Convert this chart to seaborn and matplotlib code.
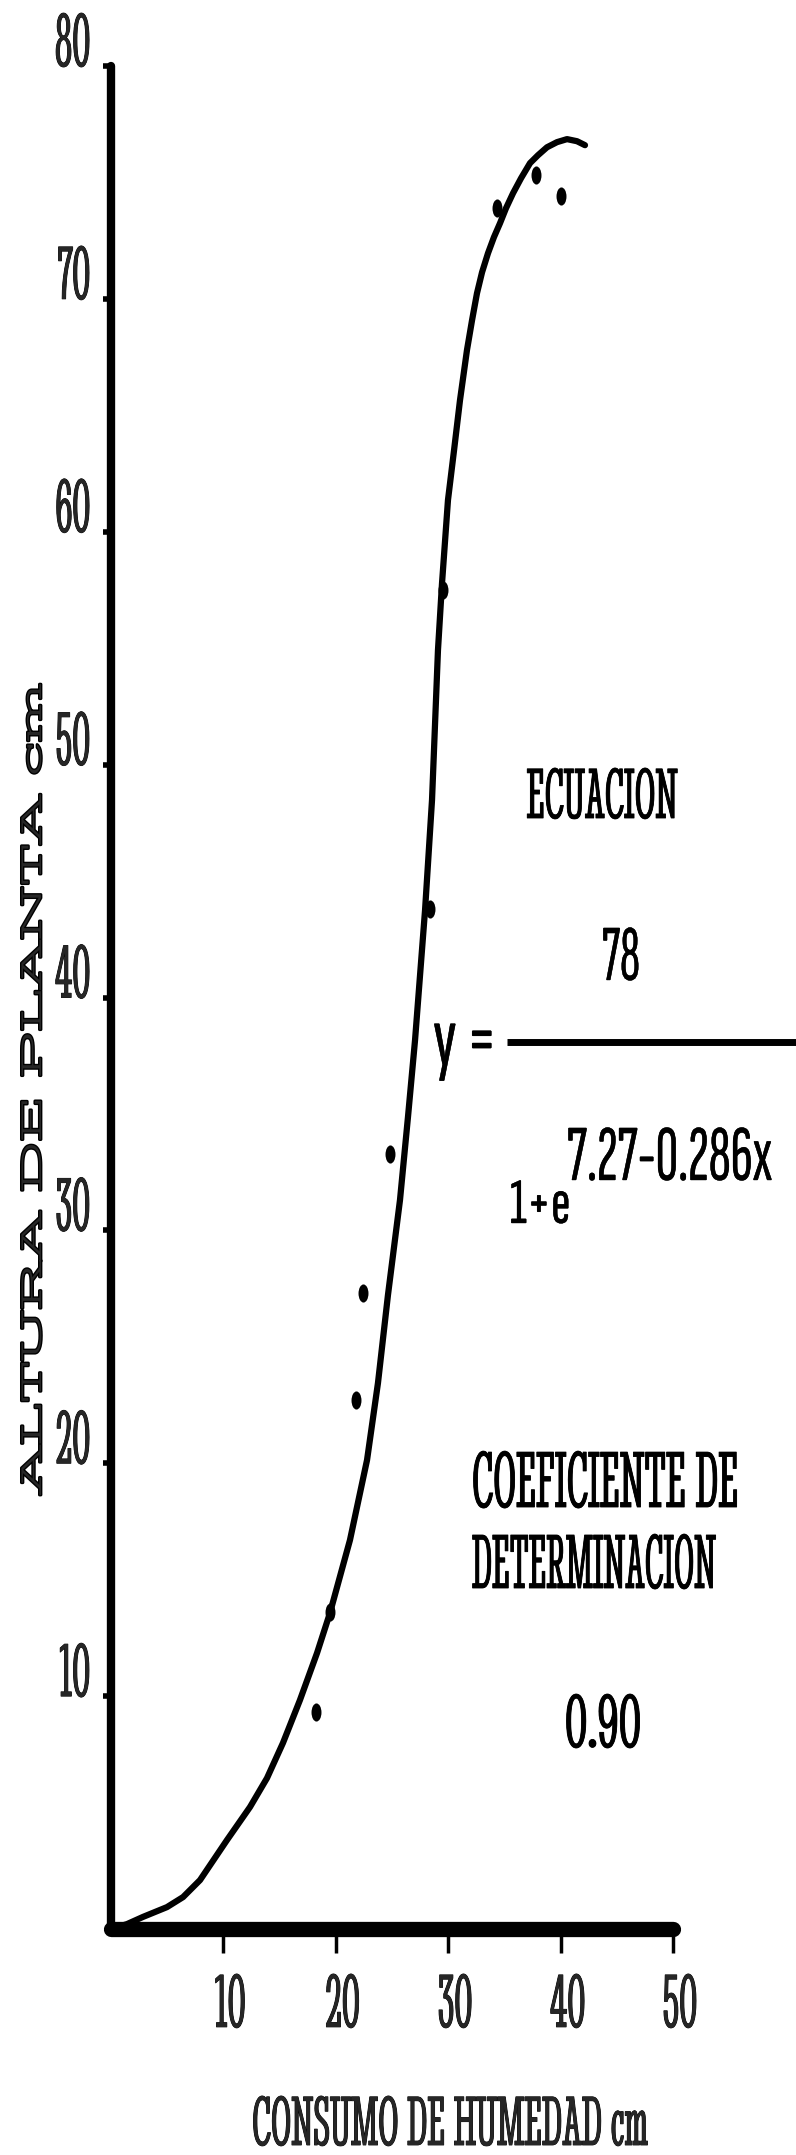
import matplotlib
matplotlib.use("Agg")
import matplotlib.pyplot as plt
import numpy as np
import pandas as pd
import seaborn as sns
from fontTools.ttLib import TTFont
from matplotlib import font_manager as fm
from matplotlib import patheffects
from matplotlib.font_manager import FontProperties
from matplotlib.lines import Line2D
from matplotlib.path import Path
from matplotlib.textpath import TextPath
from matplotlib.transforms import ScaledTranslation

# Observed plant height (cm) against moisture use (cm)
consumo = [18.2, 19.5, 21.8, 22.4, 24.8, 28.4, 29.5, 34.3, 37.8, 40.0]
altura = [9.3, 13.6, 22.7, 27.3, 33.3, 43.8, 57.5, 73.9, 75.3, 74.4]

# Hand-drawn logistic response curve through the observations
curva_x = [0.0, 1.42, 2.85, 4.98, 6.41, 7.92, 10.32, 12.37, 13.88, 15.30,
           16.81, 18.33, 19.48, 21.26, 22.78, 23.75, 24.64, 25.71, 26.42,
           27.05, 27.94, 28.56, 29.09, 29.45, 29.98, 30.52, 31.05, 31.67,
           32.12, 32.56, 33.01, 33.54, 34.07, 34.61, 35.14, 35.77, 36.48,
           37.28, 37.99, 38.79, 39.68, 40.57, 41.46, 42.17]
curva_y = [0.0, 0.21, 0.52, 0.94, 1.37, 2.10, 3.82, 5.24, 6.48, 7.99,
           9.83, 11.85, 13.57, 16.70, 20.14, 23.44, 27.22, 31.30, 34.86,
           38.17, 43.75, 48.48, 54.92, 57.79, 61.36, 63.50, 65.65, 67.80,
           69.08, 70.24, 71.14, 71.96, 72.65, 73.25, 73.89, 74.54, 75.18,
           75.83, 76.17, 76.51, 76.73, 76.86, 76.77, 76.60]

x_ticks = [10, 20, 30, 40, 50]
y_ticks = [10, 20, 30, 40, 50, 60, 70, 80]

x_label = "CONSUMO DE HUMEDAD cm"
y_label = "ALTURA DE PLANTA cm"
titulo_ecuacion = "ECUACION"
numerador = "78"
lado_izquierdo = "y ="
base_denominador = "1+e"
exponente = "7.27-0.286x"
titulo_r2 = ["COEFICIENTE DE", "DETERMINACION"]
valor_r2 = "0.90"

sns.set_theme(style="white")

available = {f.name for f in fm.fontManager.ttflist}


def pick(*names):
    for n in names:
        if n in available:
            return n
    return "DejaVu Sans"


SERIF_COND = pick("Stint Ultra Condensed", "Liberation Sans Narrow", "DejaVu Serif")
SERIF_WIDE = pick("Stint Ultra Expanded", "Liberation Serif", "DejaVu Serif")
SANS_COND = pick("Sofia Sans Extra Condensed", "Sofia Sans Condensed",
                 "Liberation Sans Narrow", "DejaVu Sans")
plt.rcParams["font.family"] = [SERIF_COND, "DejaVu Sans"]

# --- typewriter-style lettering: derive horizontally scaled font variants ---
_variants = {}


def scaled_family(family, sx):
    """Register a copy of `family` whose glyphs are scaled by sx horizontally."""
    key = (family, round(sx, 3))
    if key in _variants:
        return _variants[key]
    try:
        src = fm.findfont(FontProperties(family=family), fallback_to_default=False)
        f = TTFont(src)
        if "glyf" not in f:
            raise ValueError("no glyf table")
        glyf, hmtx = f["glyf"], f["hmtx"]
        for name in f.getGlyphOrder():
            g = glyf[name]
            if g.isComposite():
                for c in g.components:
                    if hasattr(c, "x"):
                        c.x = int(round(c.x * sx))
            elif g.numberOfContours > 0:
                g.coordinates.scale((sx, 1.0))
                g.coordinates.toInt()
            adv, lsb = hmtx[name]
            hmtx[name] = (int(round(adv * sx)), int(round(lsb * sx)))
        for tag in ("hdmx", "LTSH", "VDMX", "fvar", "gvar", "HVAR", "MVAR",
                    "avar", "cvar", "STAT", "GPOS", "DSIG"):
            if tag in f:
                del f[tag]
        if "kern" in f:
            for st in f["kern"].kernTables:
                kt = getattr(st, "kernTable", None)
                if kt:
                    for k in list(kt):
                        kt[k] = int(round(kt[k] * sx))
        new_name = f"{family} W{int(round(sx * 1000))}"
        for rec in f["name"].names:
            if rec.nameID in (1, 3, 4, 16):
                rec.string = new_name
            elif rec.nameID == 6:
                rec.string = new_name.replace(" ", "")
        out = new_name.replace(" ", "_") + ".ttf"
        f.save(out)
        fm.fontManager.addfont(out)
        _variants[key] = new_name
    except Exception:
        _variants[key] = family
    return _variants[key]


def fit(text, family, h_px, w_px):
    """Font size (pt) for glyph height h_px, in a variant scaled to width w_px."""
    tp = TextPath((0, 0), text, size=1, prop=FontProperties(family=family))
    e = tp.get_extents()
    size = h_px * 0.72 / e.height
    natural = e.width * size / 0.72
    return size, scaled_family(family, w_px / natural)


def ink(lw):
    return [patheffects.withStroke(linewidth=lw, foreground="black")]


W, H = 796, 2155
fig = plt.figure(figsize=(W / 100, H / 100), dpi=100)
fig.patch.set_facecolor("white")

# axis frame: x 0..50 spans px 111..673, y 0..80 spans px 1929..66
ax = fig.add_axes([111 / W, (H - 1929) / H, 562 / W, (1929 - 66) / H])
ax.set_facecolor("white")

curve_df = pd.DataFrame({"consumo": curva_x, "altura": curva_y})
obs_df = pd.DataFrame({"consumo": consumo, "altura": altura})

sns.lineplot(data=curve_df, x="consumo", y="altura", sort=False, estimator=None,
             color="black", linewidth=4.5, ax=ax, solid_capstyle="round",
             solid_joinstyle="round", zorder=3)

circle = Path.unit_circle()
oval = Path(circle.vertices * np.array([0.55, 1.0]), circle.codes)
sns.scatterplot(data=obs_df, x="consumo", y="altura", marker=oval, s=170,
                color="black", edgecolor="black", linewidth=0, ax=ax, zorder=4)

ax.set_xlim(0, 50)
ax.set_ylim(0, 80)
sns.despine(ax=ax)
ax.spines["left"].set_linewidth(6)
ax.spines["bottom"].set_linewidth(11)
for s in ("left", "bottom"):
    ax.spines[s].set_color("black")
    ax.spines[s].set_capstyle("round")

# tick labels: tall condensed typewriter digits
tick_size, tick_family = fit("80", SERIF_COND, 54, 33)
ax.set_xticks(x_ticks)
ax.set_xticklabels([str(v) for v in x_ticks], family=tick_family, fontsize=tick_size,
                   va="baseline")
ax.set_yticks(y_ticks)
ax.set_yticklabels([str(v) for v in y_ticks], family=tick_family, fontsize=tick_size,
                   va="baseline")
ax.tick_params(axis="x", direction="out", length=17, width=2.5, pad=53.5,
               color="black", bottom=True)
ax.tick_params(axis="y", direction="out", length=6, width=4, pad=9,
               color="black", left=True)
# x tick labels sit slightly right of their ticks
shift = ScaledTranslation(7 / 100, 0, fig.dpi_scale_trans)
for lab in ax.get_xticklabels():
    lab.set_transform(lab.get_transform() + shift)
    lab.set_path_effects(ink(0.6))
for lab in ax.get_yticklabels():
    lab.set_path_effects(ink(0.6))

# axis titles
xs, xfam = fit(x_label, SERIF_COND, 50, 394)
xl = ax.set_xlabel(x_label, family=xfam, fontsize=xs, va="baseline")
xl.set_path_effects(ink(0.6))
ax.xaxis.set_label_coords((450 - 111) / 562, (1929 - 2145) / 1863)

ys, yfam = fit(y_label, SERIF_WIDE, 20, 811)
yl = ax.set_ylabel(y_label, family=yfam, fontsize=ys, va="baseline")
yl.set_path_effects(ink(2.0))
ax.yaxis.set_label_coords((41 - 111) / 562, (1929 - 1088) / 1863)


def put(x, y, text, family, h_px, w_px, ha="left", stroke=0.6):
    size, fam = fit(text, family, h_px, w_px)
    t = fig.text(x / W, 1 - y / H, text, family=fam, ha=ha, va="baseline",
                 fontsize=size, color="black")
    t.set_path_effects(ink(stroke))
    return t


# equation block
put(602, 818, titulo_ecuacion, SERIF_COND, 51, 150, ha="center")
put(621, 980, numerador, SANS_COND, 53, 35, ha="center", stroke=0.3)
put(433, 1065, lado_izquierdo, SANS_COND, 57, 57, stroke=0.3)
fig.add_artist(Line2D([507 / W, 1.0], [1 - 1042 / H, 1 - 1042 / H],
                      color="black", linewidth=5, solid_capstyle="butt"))
put(510, 1223, base_denominador, SANS_COND, 43, 57, stroke=0.3)
put(567, 1180, exponente, SANS_COND, 53, 203, stroke=0.3)

# coefficient of determination
put(472, 1507, titulo_r2[0], SERIF_COND, 57, 263)
put(472, 1588, titulo_r2[1], SERIF_COND, 55, 243)
put(603, 1747, valor_r2, SERIF_COND, 54, 73, ha="center")

fig.savefig("out.png", dpi=100, facecolor="white")
